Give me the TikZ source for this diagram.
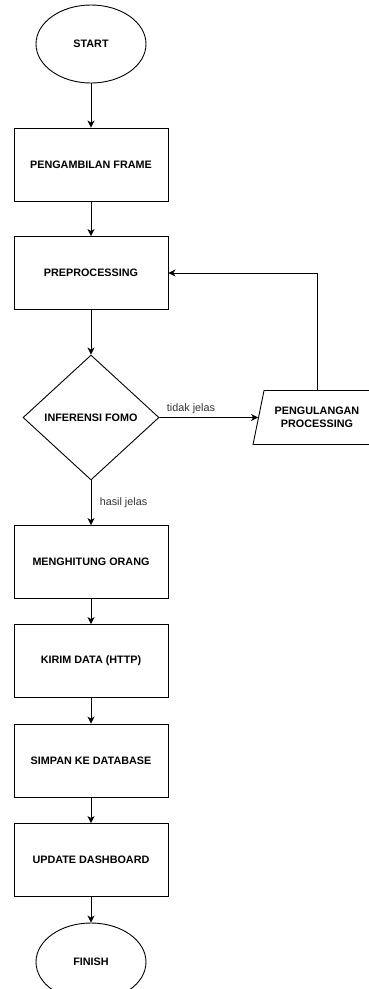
\documentclass[tikz,border=0pt]{standalone}
\usepackage{fontspec}
\setmainfont{Liberation Sans}
\usetikzlibrary{arrows.meta,positioning,shapes.geometric}

\begin{document}
\begin{tikzpicture}[x=1pt, y=-1pt, line width=0.9pt,
    every node/.style={font=\fontsize{10.8}{12.8}\selectfont},
    proc/.style={draw, rectangle, minimum width=154pt, minimum height=73pt,
      font=\fontsize{10.8}{12.8}\selectfont\bfseries},
    term/.style={draw, ellipse, minimum width=110pt, minimum height=78pt,
      inner sep=0pt, font=\fontsize{10.8}{12.8}\selectfont\bfseries},
    decide/.style={draw, diamond, minimum width=136pt, minimum height=125pt,
      inner sep=0pt, font=\fontsize{10.8}{12.8}\selectfont\bfseries},
    io/.style={draw, trapezium, trapezium left angle=72, trapezium right angle=108,
      trapezium stretches=true, minimum width=128pt, minimum height=54pt,
      inner xsep=0pt, align=center,
      font=\fontsize{10.8}{12.8}\selectfont\bfseries},
    flow/.style={-{Stealth[length=7pt, width=7pt, inset=2pt]}},
    lbl/.style={text=black!80}]
  \useasboundingbox (0,0) rectangle (369,989);

  % Main flow
  \node[term]   (start)  at (91,44)    {START};
  \node[proc]   (frame)  at (91,164.5) {PENGAMBILAN FRAME};
  \node[proc]   (prep)   at (91,273)   {PREPROCESSING};
  \node[decide] (infer)  at (91,417.5) {INFERENSI FOMO};
  \node[proc]   (count)  at (91,562)   {MENGHITUNG ORANG};
  \node[proc]   (send)   at (91,661)   {KIRIM DATA (HTTP)};
  \node[proc]   (store)  at (91,760.5) {SIMPAN KE DATABASE};
  \node[proc]   (dash)   at (91,860)   {UPDATE DASHBOARD};
  \node[term]   (finish) at (91,962)   {FINISH};

  % Retry branch
  \node[io]     (retry)  at (317,417.5) {PENGULANGAN\\PROCESSING};

  % Connectors
  \draw[flow] (start) -- (frame);
  \draw[flow] (frame) -- (prep);
  \draw[flow] (prep) -- (infer);
  \draw[flow] (infer) -- node[lbl, midway, right=5pt] {hasil jelas} (count);
  \draw[flow] (count) -- (send);
  \draw[flow] (send) -- (store);
  \draw[flow] (store) -- (dash);
  \draw[flow] (dash) -- (finish);
  \draw[flow] (infer) -- node[lbl, pos=0.32, above=0pt] {tidak jelas} (retry);
  \draw[flow] (retry.north) |- (prep.east);

\end{tikzpicture}
\end{document}
